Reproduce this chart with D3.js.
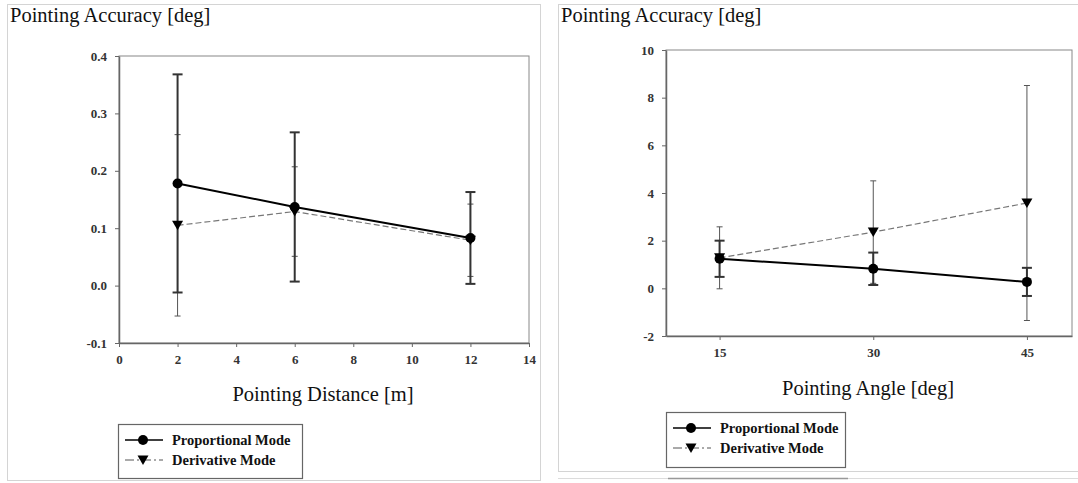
<!DOCTYPE html>
<html>
<head>
<meta charset="utf-8">
<script src="https://cdn.jsdelivr.net/npm/d3@7"></script>
<style>
  html, body { margin: 0; padding: 0; background: #fff; }
  svg { display: block; }
  text { font-family: "Liberation Serif", "Times New Roman", serif; fill: #111; }
  .tick text { font-family: "Liberation Serif", serif; font-size: 13px; font-weight: bold; fill: #333; }
</style>
</head>
<body>
<svg id="chart" width="1078" height="483"></svg>
<script>
// Pointing accuracy vs. distance
const distances = [2, 6, 12];
const propByDistance = [0.178, 0.137, 0.083];
const propByDistanceErr = [0.19, 0.13, 0.08];
const derivByDistance = [0.105, 0.129, 0.079];
const derivByDistanceErr = [0.158, 0.078, 0.063];
const distanceTicks = [0, 2, 4, 6, 8, 10, 12, 14];
const distanceAccTicks = [-0.1, 0.0, 0.1, 0.2, 0.3, 0.4];

// Pointing accuracy vs. angle
const angles = [15, 30, 45];
const propByAngle = [1.24, 0.82, 0.27];
const propByAngleErr = [0.76, 0.68, 0.59];
const derivByAngle = [1.28, 2.36, 3.58];
const derivByAngleErr = [1.3, 2.15, 4.93];
const angleTicks = [15, 30, 45];
const angleAccTicks = [-2, 0, 2, 4, 6, 8, 10];

const seriesNames = ["Proportional Mode", "Derivative Mode"];
const yTitle = "Pointing Accuracy [deg]";

const svg = d3.select("#chart");
const hyphen = s => s.replace("\u2212", "-");

const panels = [
  {
    titleX: 10,
    plot: { left: 119, right: 529, top: 56, bottom: 343 },
    xDomain: [0, 14], yDomain: [-0.1, 0.4],
    xTicks: distanceTicks, yTicks: distanceAccTicks,
    yFormat: d => hyphen(d3.format(".1f")(d)),
    xTitle: "Pointing Distance [m]", xTitleX: 323, xTitleY: 401,
    xs: distances,
    series: [
      { v: propByDistance, e: propByDistanceErr },
      { v: derivByDistance, e: derivByDistanceErr }
    ],
    legend: { x: 118, y: 424, w: 184, h: 54 }
  },
  {
    titleX: 561,
    plot: { left: 666, right: 1072, top: 50, bottom: 336 },
    xDomain: [9.77, 49.4], yDomain: [-2, 10],
    xTicks: angleTicks, yTicks: angleAccTicks,
    yFormat: d => hyphen(d3.format("d")(d)),
    xTitle: "Pointing Angle [deg]", xTitleX: 868, xTitleY: 395,
    xs: angles,
    series: [
      { v: propByAngle, e: propByAngleErr },
      { v: derivByAngle, e: derivByAngleErr }
    ],
    legend: { x: 666, y: 412, w: 179, h: 55 }
  }
];

// Styles for the two modes
const styles = [
  { line: "#000", lw: 2, dash: null, err: "#333", ew: 2, cap: 5, marker: "circle" },
  { line: "#777", lw: 1.2, dash: "6,3", err: "#555", ew: 1, cap: 3, marker: "triangle" }
];

function drawMarker(g, kind, x, y) {
  if (kind === "circle") {
    g.append("circle").attr("cx", x).attr("cy", y).attr("r", 5).attr("fill", "#000");
  } else {
    g.append("path")
      .attr("d", `M${x - 5.5},${y - 4.5}L${x + 5.5},${y - 4.5}L${x},${y + 5}Z`)
      .attr("fill", "#000");
  }
}

// Outer page frames
svg.append("rect").attr("x", 7.5).attr("y", 4.5)
  .attr("width", 540 - 7).attr("height", 481 - 5)
  .attr("fill", "none").attr("stroke", "#d4d4d4");
svg.append("rect").attr("x", 558.5).attr("y", 4.5)
  .attr("width", 540).attr("height", 472 - 5)
  .attr("fill", "none").attr("stroke", "#d4d4d4");
svg.append("line").attr("x1", 558).attr("x2", 1078).attr("y1", 478.5).attr("y2", 478.5)
  .attr("stroke", "#dcdcdc");
svg.append("line").attr("x1", 668).attr("x2", 848).attr("y1", 478.5).attr("y2", 478.5)
  .attr("stroke", "#999").attr("stroke-width", 1.5);

panels.forEach(p => {
  const g = svg.append("g");
  const x = d3.scaleLinear().domain(p.xDomain).range([p.plot.left, p.plot.right]);
  const y = d3.scaleLinear().domain(p.yDomain).range([p.plot.bottom, p.plot.top]);

  // y title at top left
  g.append("text").attr("x", p.titleX).attr("y", 22)
    .attr("font-size", 20.5).attr("fill", "#222").text(yTitle);

  // plot box
  g.append("rect")
    .attr("x", p.plot.left).attr("y", p.plot.top)
    .attr("width", p.plot.right - p.plot.left).attr("height", p.plot.bottom - p.plot.top)
    .attr("fill", "none").attr("stroke", "#888").attr("stroke-width", 1);

  // axes
  const yAxis = g.append("g").attr("transform", `translate(${p.plot.left},0)`)
    .call(d3.axisLeft(y).tickValues(p.yTicks).tickFormat(p.yFormat).tickSize(4).tickSizeOuter(0).tickPadding(8));
  const xAxis = g.append("g").attr("transform", `translate(0,${p.plot.bottom})`)
    .call(d3.axisBottom(x).tickValues(p.xTicks).tickFormat(d3.format("d")).tickSize(4).tickSizeOuter(0).tickPadding(8));
  [yAxis, xAxis].forEach(a => {
    a.attr("font-family", null).attr("font-size", null);
    a.select(".domain").attr("stroke", "#666").attr("stroke-width", 1.5);
    a.selectAll(".tick line").attr("stroke", "#666");
  });

  // x title
  g.append("text").attr("x", p.xTitleX).attr("y", p.xTitleY)
    .attr("text-anchor", "middle").attr("font-size", 20.5).attr("fill", "#222").text(p.xTitle);

  // error bars (derivative first, proportional on top)
  [1, 0].forEach(si => {
    const s = p.series[si], st = styles[si];
    const eg = g.append("g").attr("stroke", st.err).attr("stroke-width", st.ew);
    p.xs.forEach((xv, i) => {
      const cx = x(xv), hi = y(s.v[i] + s.e[i]), lo = y(s.v[i] - s.e[i]);
      eg.append("line").attr("x1", cx).attr("x2", cx).attr("y1", hi).attr("y2", lo);
      eg.append("line").attr("x1", cx - st.cap).attr("x2", cx + st.cap).attr("y1", hi).attr("y2", hi);
      eg.append("line").attr("x1", cx - st.cap).attr("x2", cx + st.cap).attr("y1", lo).attr("y2", lo);
    });
  });

  // series lines and markers
  [1, 0].forEach(si => {
    const s = p.series[si], st = styles[si];
    const line = d3.line().x((d, i) => x(p.xs[i])).y(d => y(d));
    g.append("path").attr("d", line(s.v)).attr("fill", "none")
      .attr("stroke", st.line).attr("stroke-width", st.lw)
      .attr("stroke-dasharray", st.dash);
    p.xs.forEach((xv, i) => drawMarker(g, st.marker, x(xv), y(s.v[i])));
  });

  // legend
  const L = p.legend;
  const lg = g.append("g");
  lg.append("rect").attr("x", L.x + 0.5).attr("y", L.y + 0.5).attr("width", L.w).attr("height", L.h)
    .attr("fill", "#fff").attr("stroke", "#666").attr("stroke-width", 1.2);
  seriesNames.forEach((name, i) => {
    const st = styles[i];
    const ry = L.y + 16 + i * 20;
    lg.append("line").attr("x1", L.x + 7).attr("x2", L.x + 45).attr("y1", ry).attr("y2", ry)
      .attr("stroke", i === 0 ? "#000" : "#555").attr("stroke-width", i === 0 ? 1.5 : 1)
      .attr("stroke-dasharray", i === 0 ? null : "9,3,2,3");
    drawMarker(lg, st.marker, L.x + 25, ry);
    lg.append("text").attr("x", L.x + 54).attr("y", ry + 5)
      .attr("font-size", 14.5).attr("font-weight", "bold").attr("fill", "#222").text(name);
  });
});
</script>
</body>
</html>
